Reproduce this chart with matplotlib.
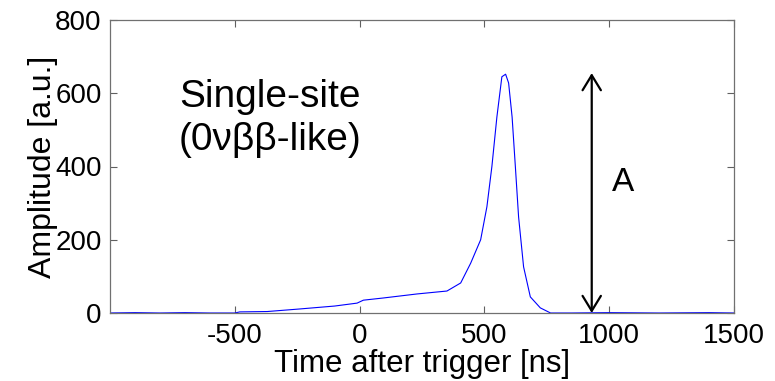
import matplotlib
matplotlib.use("Agg")
import matplotlib.pyplot as plt
from matplotlib.patches import FancyArrowPatch

plt.rcParams['font.family'] = ['Liberation Sans', 'DejaVu Sans']
plt.rcParams['axes.unicode_minus'] = False

# Data
time_ns = [-1000, -900, -800, -700, -600, -500, -480, -370, -240, -100, -10, 15,
           95, 230, 350, 405, 445, 485, 510, 530, 550, 570, 585, 597, 611, 624,
           637, 657, 684, 724, 765, 850, 1000, 1200, 1400, 1500]
amplitude = [0, 1, 0, 1, 0, 0, 3, 4, 11, 19, 27, 35,
             41, 52, 60, 82, 136, 200, 290, 400, 535, 645, 652, 628, 535, 400,
             262, 126, 44, 14, 0, 0, 1, 0, 1, 0]

xticks = [-500, 0, 500, 1000, 1500]
yticks = [0, 200, 400, 600, 800]
arrow_x = 930
arrow_top = 655

fig = plt.figure(figsize=(7.75, 3.81), dpi=100)
ax = fig.add_axes([110/775, (381-313)/381, (734-110)/775, (313-20)/381])

ax.plot(time_ns, amplitude, color='#0000ff', lw=0.8)

ax.set_xlim(-1000, 1500)
ax.set_ylim(0, 800)
ax.set_xticks(xticks)
ax.set_yticks(yticks)
ax.tick_params(direction='in', length=5, width=0.8, colors='#606060',
               labelcolor='black', labelsize=20, top=True, right=True)
ax.tick_params(axis='x', pad=7)
ax.tick_params(axis='y', pad=6)
for s in ax.spines.values():
    s.set_color('#707070')
    s.set_linewidth(0.9)

ax.set_xlabel('Time after trigger [ns]', fontsize=22.5, labelpad=0)
ax.set_ylabel('Amplitude [a.u.]', fontsize=23, labelpad=-2)

arr = FancyArrowPatch((arrow_x, 0), (arrow_x, arrow_top),
                      arrowstyle='<->,head_length=0.9,head_width=0.55',
                      color='black', lw=1.6, shrinkA=0, shrinkB=0,
                      mutation_scale=12)
ax.add_patch(arr)
ax.text(1055, 355, 'A', fontsize=24, ha='center', va='center')

ax.text(-724, 562, 'Single-site', fontsize=28, ha='left', va='baseline')
ax.text(-724, 445, '(0νββ-like)', fontsize=28, ha='left', va='baseline')

fig.savefig('out.png', dpi=100)
